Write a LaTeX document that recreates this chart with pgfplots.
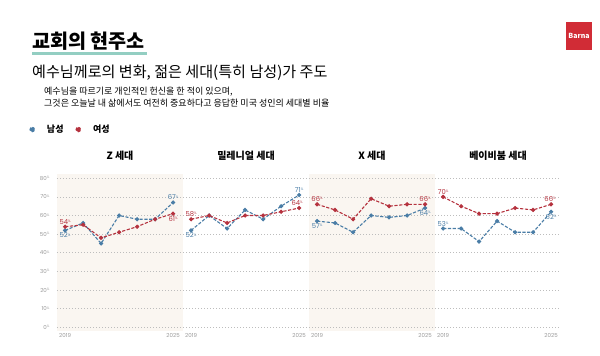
\documentclass[border=0pt]{standalone}
\usepackage{pgfplots}
\usepackage{pgfplotstable}
\pgfplotsset{compat=1.18}
\usepackage{fontspec}
\setmainfont{Noto Sans CJK KR}
\newfontfamily\numfont{Poppins}
\definecolor{mblue}{HTML}{4A7DA6}
\definecolor{fred}{HTML}{B5323E}
\definecolor{shade}{HTML}{FAF6F1}
\definecolor{gridc}{HTML}{BDBDBD}
\definecolor{tickc}{HTML}{9A9A9A}
\definecolor{tealc}{HTML}{93CEC2}
\definecolor{barna}{HTML}{D12C36}
\newcommand{\pc}[1]{{\numfont #1\raisebox{0.5ex}{\fontsize{3.4}{3.8}\selectfont\%}}}

\pgfplotstableread{
x m f
0 52 54
1 56 55
2 45 48
3 60 51
4 58 54
5 58 58
6 67 61
}\genz
\pgfplotstableread{
x m f
0 52 58
1 60 60
2 53 56
3 63 60
4 58 60
5 65 62
6 71 64
}\genm
\pgfplotstableread{
x m f
0 57 66
1 56 63
2 51 58
3 60 69
4 59 65
5 60 66
6 64 66
}\genx
\pgfplotstableread{
x m f
0 53 70
1 53 65
2 46 61
3 57 61
4 51 64
5 51 63
6 62 66
}\genb

\pgfplotsset{
  panel/.style={
    scale only axis, width=126pt, height=157.4pt,
    xmin=-0.45, xmax=6.55, ymin=-2, ymax=82.5,
    xtick={0,6}, xticklabels={2019,2025},
    ytick={0,10,...,80}, yticklabels={},
    ymajorgrids, grid style={gridc, line width=0.6pt, dash pattern=on 0.7pt off 2.3pt},
    axis line style={draw=none}, major tick length=0pt,
    x tick label style={font=\numfont\fontsize{5.5}{6}\selectfont, text=tickc, yshift=1pt},
    y tick label style={font=\numfont\fontsize{5.5}{6}\selectfont, text=tickc},
    title style={font=\bfseries\fontsize{10}{12}\selectfont, at={(0.5,1)}, anchor=south, yshift=4pt},
    clip=false,
    anchor=south west,
  },
  men/.style={mblue, line width=1.1pt, dash pattern=on 3.2pt off 1.6pt, mark=*, mark size=1.5pt, mark options={solid}},
  women/.style={fred, line width=1.1pt, dash pattern=on 3.2pt off 1.6pt, mark=*, mark size=1.5pt, mark options={solid}},
}
\tikzset{lab/.style={font=\fontsize{6.8}{7.5}\selectfont, inner sep=0.8pt}}

\begin{document}
\begin{tikzpicture}[x=1pt,y=1pt]
\useasboundingbox (0,0) rectangle (600,356);
% header
\node[anchor=west, font=\bfseries\fontsize{19.6}{21}\selectfont, inner sep=0pt] at (32,315) {교회의 현주소};
\fill[tealc] (32,301.3) rectangle (147,304);
\node[anchor=west, font=\fontsize{15.1}{17}\selectfont, inner sep=0pt] at (32,283.3) {예수님께로의 변화, 젊은 세대(특히 남성)가 주도};
\node[anchor=west, font=\fontsize{9}{10}\selectfont, inner sep=0pt] at (44,264) {예수님을 따르기로 개인적인 헌신을 한 적이 있으며,};
\node[anchor=west, font=\fontsize{9}{10}\selectfont, inner sep=0pt] at (44,252.5) {그것은 오늘날 내 삶에서도 여전히 중요하다고 응답한 미국 성인의 세대별 비율};
% logo
\fill[barna] (566,306) rectangle (592,334);
\node[text=white, font=\fontsize{7}{8}\selectfont\bfseries, inner sep=0pt] at (579,320) {Barna};

% Panel 1
\begin{axis}[panel, at={(57pt,25pt)}, title={Z 세대},
  axis background/.style={fill=shade},
  yticklabels={\pc{0},\pc{10},\pc{20},\pc{30},\pc{40},\pc{50},\pc{60},\pc{70},\pc{80}},
  y tick label style={xshift=-4pt},
  legend style={at={(-0.22,1.28)}, anchor=west, draw=none, fill=none, font=\bfseries\fontsize{9}{10}\selectfont, column sep=10pt, inner sep=0pt},
  legend columns=2]
\addplot[men, legend image code/.code={\fill[mblue] (0.22cm,0pt) circle (2.2pt);}] table[x=x,y=m]{\genz};
\addlegendentry{남성}
\addplot[women, legend image code/.code={\fill[fred] (0.22cm,0pt) circle (2.2pt);}] table[x=x,y=f]{\genz};
\addlegendentry{여성}
\node[lab, text=fred, anchor=south] at (axis cs:0,54) [yshift=1.5pt] {\pc{54}};
\node[lab, text=mblue, anchor=north] at (axis cs:0,52) [yshift=-1.5pt] {\pc{52}};
\node[lab, text=mblue, anchor=south] at (axis cs:6,67) [yshift=1.5pt] {\pc{67}};
\node[lab, text=fred, anchor=north] at (axis cs:6,61) [yshift=-1.5pt] {\pc{61}};
\end{axis}

% Panel 2
\begin{axis}[panel, at={(183pt,25pt)}, title={밀레니얼 세대}]
\addplot[men] table[x=x,y=m]{\genm};
\addplot[women] table[x=x,y=f]{\genm};
\node[lab, text=fred, anchor=south] at (axis cs:0,58) [yshift=1.5pt] {\pc{58}};
\node[lab, text=mblue, anchor=north] at (axis cs:0,52) [yshift=-1.5pt] {\pc{52}};
\node[lab, text=mblue, anchor=south] at (axis cs:6,71) [yshift=1.5pt] {\pc{71}};
\node[lab, text=fred, anchor=south] at (axis cs:6,64) [yshift=1.5pt, xshift=-2pt] {\pc{64}};
\end{axis}

% Panel 3
\begin{axis}[panel, at={(309pt,25pt)}, title={X 세대},
  axis background/.style={fill=shade}]
\addplot[men] table[x=x,y=m]{\genx};
\addplot[women] table[x=x,y=f]{\genx};
\node[lab, text=fred, anchor=south] at (axis cs:0,66) [yshift=1.5pt] {\pc{66}};
\node[lab, text=mblue, anchor=north] at (axis cs:0,57) [yshift=-1.5pt] {\pc{57}};
\node[lab, text=fred, anchor=south] at (axis cs:6,66) [yshift=1.5pt] {\pc{66}};
\node[lab, text=mblue, anchor=north] at (axis cs:6,64) [yshift=-1.5pt] {\pc{64}};
\end{axis}

% Panel 4
\begin{axis}[panel, at={(435pt,25pt)}, title={베이비붐 세대}]
\addplot[men] table[x=x,y=m]{\genb};
\addplot[women] table[x=x,y=f]{\genb};
\node[lab, text=fred, anchor=south] at (axis cs:0,70) [yshift=1.5pt] {\pc{70}};
\node[lab, text=mblue, anchor=south] at (axis cs:0,53) [yshift=1.5pt] {\pc{53}};
\node[lab, text=fred, anchor=south] at (axis cs:6,66) [yshift=1.5pt, xshift=-1pt] {\pc{66}};
\node[lab, text=mblue, anchor=north] at (axis cs:6,62) [yshift=-1.5pt] {\pc{62}};
\end{axis}
\end{tikzpicture}
\end{document}
